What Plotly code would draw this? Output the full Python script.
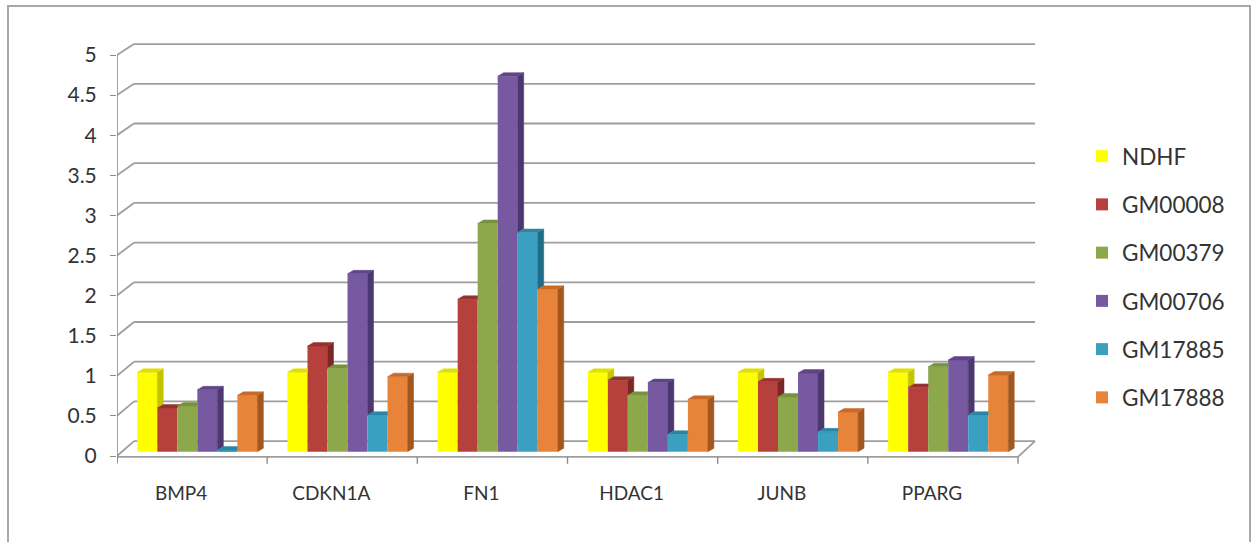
import plotly.graph_objects as go

# ---- data -------------------------------------------------------------
genes = ["BMP4", "CDKN1A", "FN1", "HDAC1", "JUNB", "PPARG"]
series_names = ["NDHF", "GM00008", "GM00379", "GM00706", "GM17885", "GM17888"]

ndhf = [1.0, 1.0, 1.0, 1.0, 1.0, 1.0]
gm00008 = [0.55, 1.33, 1.92, 0.90, 0.88, 0.81]
gm00379 = [0.575, 1.05, 2.875, 0.71, 0.69, 1.07]
gm00706 = [0.78, 2.24, 4.73, 0.87, 0.99, 1.155]
gm17885 = [0.02, 0.46, 2.76, 0.22, 0.25, 0.46]
gm17888 = [0.71, 0.945, 2.045, 0.66, 0.50, 0.965]

y_tick_vals = [0, 0.5, 1, 1.5, 2, 2.5, 3, 3.5, 4, 4.5, 5]
y_tick_text = ["0", "0.5", "1", "1.5", "2", "2.5", "3", "3.5", "4", "4.5", "5"]

series_values = [ndhf, gm00008, gm00379, gm00706, gm17885, gm17888]

# front / side / top shades for the pseudo-3D columns
front_colors = ["#FFFF00", "#B6403C", "#8CA84A", "#7759A1", "#3A9FC1", "#E8833A"]
side_colors = ["#C4C400", "#7A2725", "#627A31", "#4C376F", "#1E6D88", "#A45620"]
top_colors = ["#E0E000", "#953230", "#76923C", "#5F4588", "#2A86A6", "#C96A28"]

# ---- geometry --------------------------------------------------------
W, H = 1255, 542
X_PX0, PX_PER_X = 117.0, 150.17      # pixel of x=-0.5, pixels per category
BAR_PX0, BAR_PX_PER = 451.7, 79.4    # column plane: pixel of 0, pixels per unit
AX_PX0, AX_PX_PER = 456.0, 80.2      # front value axis: pixel of 0, pixels per unit
TOP_PX, BOTTOM_PX = 28.0, 468.0      # vertical extent of the plotting area
X_RANGE = [-0.5, 5.65]

x_dom = [X_PX0 / W, (X_PX0 + (X_RANGE[1] - X_RANGE[0]) * PX_PER_X) / W]
y_dom = [(H - BOTTOM_PX) / H, (H - TOP_PX) / H]
bar_range = [(BAR_PX0 - BOTTOM_PX) / BAR_PX_PER, (BAR_PX0 - TOP_PX) / BAR_PX_PER]
ax_range = [(AX_PX0 - BOTTOM_PX) / AX_PX_PER, (AX_PX0 - TOP_PX) / AX_PX_PER]


def ax_to_bar(v):
    """Value on the front axis expressed in column-plane units."""
    return (BAR_PX0 - (AX_PX0 - v * AX_PX_PER)) / BAR_PX_PER


BAR_W = 0.1333       # width of one column in category units
SHIFT = 0.035        # perspective shift of the column groups
LABEL_SHIFT = -0.073
DEPTH_X = 6.0 / PX_PER_X
DEPTH_Y = 3.5 / BAR_PX_PER
WALL_X = 17.0 / PX_PER_X
WALL_Y = 10.6 / BAR_PX_PER
FLOOR_Y = ax_to_bar(-0.01)

FONT = "Lato, 'Open Sans', sans-serif"
TEXT_COLOR = "#333333"
GRID_COLOR = "#9E9E9E"
AXIS_COLOR = "#8C8C8C"


def closed(pts, xs, ys):
    xs += [p[0] for p in pts] + [pts[0][0], None]
    ys += [p[1] for p in pts] + [pts[0][1], None]


fig = go.Figure()
n_series = len(series_values)

for j, (name, vals) in enumerate(zip(series_names, series_values)):
    centers = []
    side_x, side_y, top_x, top_y = [], [], [], []
    for k, v in enumerate(vals):
        xl = k + SHIFT + (j - n_series / 2) * BAR_W
        xr = xl + BAR_W
        centers.append(xl + BAR_W / 2)
        # the next column in the group hides part of this one's faces
        h = series_values[j + 1][k] if j + 1 < n_series else 0.0
        # right side face
        if v > h:
            closed([(xr, h), (xr + DEPTH_X, h + DEPTH_Y),
                    (xr + DEPTH_X, v + DEPTH_Y), (xr, v)], side_x, side_y)
        # top face
        if h <= v:
            pts = [(xl, v), (xr, v), (xr + DEPTH_X, v + DEPTH_Y),
                   (xl + DEPTH_X, v + DEPTH_Y)]
        elif h >= v + DEPTH_Y:
            pts = [(xl, v), (xr, v), (xr, v + DEPTH_Y),
                   (xl + DEPTH_X, v + DEPTH_Y)]
        else:
            pts = [(xl, v), (xr, v), (xr, h),
                   (xr + DEPTH_X * (h - v) / DEPTH_Y, h),
                   (xr + DEPTH_X, v + DEPTH_Y), (xl + DEPTH_X, v + DEPTH_Y)]
        closed(pts, top_x, top_y)

    fig.add_trace(go.Bar(
        x=centers, y=vals, width=BAR_W, name=name, yaxis="y2",
        marker=dict(color=front_colors[j], line=dict(width=0)),
        legendgroup=name, hoverinfo="name+y",
    ))
    fig.add_trace(go.Scatter(
        x=side_x, y=side_y, mode="lines", fill="toself", yaxis="y2",
        fillcolor=side_colors[j], line=dict(color=side_colors[j], width=0.5),
        showlegend=False, hoverinfo="skip", legendgroup=name,
    ))
    fig.add_trace(go.Scatter(
        x=top_x, y=top_y, mode="lines", fill="toself", yaxis="y2",
        fillcolor=top_colors[j], line=dict(color=top_colors[j], width=0.5),
        showlegend=False, hoverinfo="skip", legendgroup=name,
    ))

# ---- walls, floor and axes ------------------------------------------
shapes = []
left = X_RANGE[0]
right = len(genes) - 0.5
grid_line = dict(color=GRID_COLOR, width=1.8)
for v in y_tick_vals:
    # back-wall gridline
    shapes.append(dict(type="line", xref="x", yref="y2", layer="below",
                       x0=left + WALL_X, x1=right + WALL_X,
                       y0=v + WALL_Y, y1=v + WALL_Y, line=grid_line))
    # side-wall connector from the front tick to the back wall
    shapes.append(dict(type="line", xref="x", yref="y2", layer="below",
                       x0=left, x1=left + WALL_X,
                       y0=ax_to_bar(v), y1=v + WALL_Y, line=grid_line))
# floor front edge and right edge
shapes.append(dict(type="line", xref="x", yref="y2", layer="below",
                   x0=left, x1=right, y0=FLOOR_Y, y1=FLOOR_Y, line=grid_line))
shapes.append(dict(type="line", xref="x", yref="y2", layer="below",
                   x0=right, x1=right + WALL_X, y0=FLOOR_Y, y1=WALL_Y,
                   line=grid_line))
# vertical value axis
shapes.append(dict(type="line", xref="x", yref="y", layer="below",
                   x0=left, x1=left, y0=-0.08, y1=y_tick_vals[-1],
                   line=dict(color=AXIS_COLOR, width=1.6)))
# category boundary ticks
for k in range(len(genes) + 1):
    shapes.append(dict(type="line", xref="x", yref="y2", layer="below",
                       x0=k - 0.5, x1=k - 0.5,
                       y0=FLOOR_Y, y1=FLOOR_Y - 7.0 / BAR_PX_PER,
                       line=dict(color=AXIS_COLOR, width=1.4)))
# chart frame
shapes.append(dict(type="rect", xref="paper", yref="paper",
                   x0=8 / W, x1=1250 / W, y0=-0.02, y1=1 - 6 / H,
                   line=dict(color="#A8A8A8", width=2), layer="below"))

fig.update_layout(
    width=W, height=H,
    margin=dict(l=0, r=0, t=0, b=0),
    paper_bgcolor="white", plot_bgcolor="rgba(0,0,0,0)",
    barmode="overlay",
    shapes=shapes,
    font=dict(family=FONT, size=18, color=TEXT_COLOR),
    showlegend=True,
    legend=dict(x=1082 / W, y=1 - 135 / H, xanchor="left", yanchor="top",
                font=dict(family=FONT, size=22.5, color=TEXT_COLOR),
                tracegroupgap=16, bgcolor="rgba(0,0,0,0)",
                itemclick=False, itemdoubleclick=False),
    xaxis=dict(domain=x_dom, range=X_RANGE, tickmode="array",
               tickvals=[k + LABEL_SHIFT for k in range(len(genes))],
               ticktext=genes,
               ticks="", showgrid=False, zeroline=False, showline=False,
               ticklabelstandoff=12, automargin=False,
               tickfont=dict(family=FONT, size=19, color=TEXT_COLOR)),
    yaxis=dict(domain=y_dom, range=ax_range, tickmode="array",
               tickvals=y_tick_vals, ticktext=y_tick_text,
               ticks="outside", ticklen=6, tickcolor=AXIS_COLOR, tickwidth=1.4,
               showgrid=False, zeroline=False, showline=False,
               ticklabelstandoff=9, automargin=False,
               tickfont=dict(family=FONT, size=21, color=TEXT_COLOR)),
    yaxis2=dict(domain=y_dom, range=bar_range, overlaying="y",
                visible=False, showgrid=False, zeroline=False),
)

fig.write_html("out.html")
